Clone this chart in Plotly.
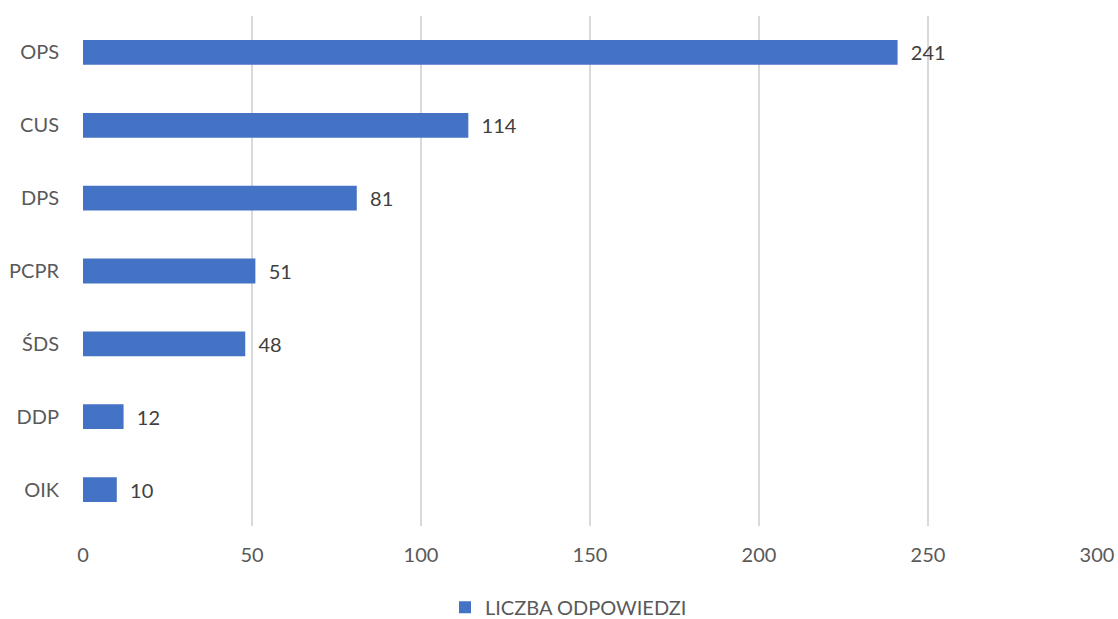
import plotly.graph_objects as go

categories = ["OPS", "CUS", "DPS", "PCPR", "ŚDS", "DDP", "OIK"]
values = [241, 114, 81, 51, 48, 12, 10]
series_name = "LICZBA ODPOWIEDZI"
x_ticks = [0, 50, 100, 150, 200, 250, 300]

FONT = "Lato"

fig = go.Figure()
fig.add_trace(go.Bar(
    y=categories,
    x=values,
    orientation="h",
    name=series_name,
    marker=dict(color="#4472C4", line=dict(width=0)),
    width=0.34,
    text=[f"  {v}" for v in values],
    textposition="outside",
    textfont=dict(size=20, color="#404040", family=FONT),
    cliponaxis=False,
    showlegend=True,
))

fig.update_layout(
    width=1118, height=619,
    margin=dict(l=83, r=21, t=16, b=93, autoexpand=False),
    paper_bgcolor="white",
    plot_bgcolor="white",
    font=dict(family=FONT, size=20, color="#595959"),
    showlegend=True,
    legend=dict(
        orientation="h",
        x=0.5085, xref="container", xanchor="center",
        y=0.019, yref="container", yanchor="middle",
        font=dict(size=20, color="#595959", family=FONT),
    ),
    bargap=0.66,
)
fig.update_xaxes(
    range=[0, 300],
    tickvals=x_ticks,
    automargin=False,
    showgrid=True, gridcolor="#D9D9D9", gridwidth=1.5,
    zeroline=False,
    showline=False,
    ticks="",
    ticklabelstandoff=15,
    tickfont=dict(size=20, color="#595959", family=FONT),
)
fig.update_yaxes(
    categoryorder="array",
    categoryarray=categories[::-1],
    automargin=False,
    showgrid=False,
    zeroline=False,
    showline=False,
    ticks="",
    ticklabelstandoff=23,
    tickfont=dict(size=20, color="#595959", family=FONT),
)

fig.write_html("out.html", config={"displayModeBar": False},
               post_script="document.body.style.margin='0';")
